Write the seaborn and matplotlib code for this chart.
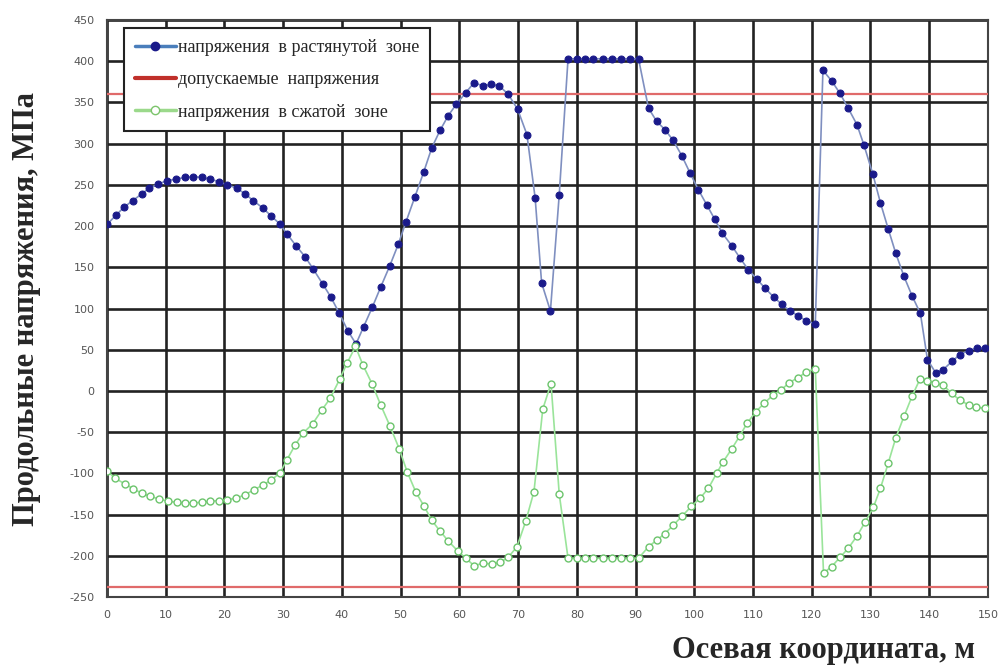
import matplotlib
matplotlib.use("Agg")
import matplotlib.pyplot as plt
import seaborn as sns
import pandas as pd
from matplotlib.lines import Line2D

# ---- data ----
blue_x = [0, 1.5, 2.9, 4.4, 5.9, 7.2, 8.7, 10.2, 11.7, 13.3, 14.7, 16.2, 17.5, 19.0, 20.5,
          22.1, 23.5, 24.9, 26.5, 28.0, 29.5, 30.7, 32.2, 33.7, 35.1, 36.7, 38.1, 39.5, 41.0,
          42.4, 43.7, 45.2, 46.6, 48.1, 49.6, 50.9, 52.4, 53.9, 55.3, 56.7, 58.1, 59.5, 61.1,
          62.5, 64.0, 65.4, 66.8, 68.3, 69.9, 71.5, 72.9, 74.0, 75.5, 77.0,
          78.5, 80.0, 81.4, 82.8, 84.4, 85.9, 87.6, 89.0, 90.5,
          92.2, 93.6, 95.0, 96.4, 97.9, 99.3, 100.7, 102.1, 103.5, 104.8, 106.4, 107.8, 109.2,
          110.6, 112.0, 113.5, 114.9, 116.3, 117.7, 119.1, 120.6,
          121.9, 123.4, 124.8, 126.2, 127.7, 128.9, 130.4, 131.7, 133.0, 134.3, 135.7, 137.1,
          138.5, 139.7, 141.1, 142.4, 143.9, 145.2, 146.7, 148.1, 149.5]
blue_y = [202, 213, 223, 231, 239, 246, 251, 255, 257, 259, 260, 259, 257, 254, 250,
          246, 239, 231, 222, 212, 202, 190, 176, 163, 148, 130, 114, 95, 73,
          57, 78, 102, 126, 151, 178, 205, 235, 265, 295, 316, 334, 348, 362,
          374, 370, 372, 370, 360, 342, 311, 234, 131, 97, 238,
          403, 403, 403, 403, 403, 403, 403, 403, 403,
          343, 327, 317, 304, 285, 264, 244, 226, 208, 191, 176, 161, 147,
          136, 125, 114, 105, 97, 91, 85, 81,
          389, 376, 361, 343, 323, 298, 263, 228, 197, 167, 139, 115,
          94, 38, 22, 26, 36, 44, 49, 52, 52]

green_x = [0, 1.4, 3.1, 4.5, 5.9, 7.3, 8.9, 10.4, 11.9, 13.3, 14.7, 16.1, 17.5, 19.0, 20.4,
           22.0, 23.5, 25.0, 26.6, 28.0, 29.5, 30.6, 32.0, 33.4, 35.0, 36.6, 38.0, 39.6, 40.9,
           42.3, 43.6, 45.1, 46.6, 48.2, 49.8, 51.1, 52.6, 54.0, 55.3, 56.7, 58.1, 59.7, 61.1,
           62.5, 64.0, 65.5, 66.9, 68.3, 69.8, 71.3, 72.7, 74.2, 75.6, 77.0,
           78.5, 80.0, 81.4, 82.8, 84.4, 85.9, 87.6, 89.0, 90.5,
           92.2, 93.6, 95.0, 96.4, 97.9, 99.5, 101.0, 102.4, 103.8, 104.9, 106.4, 107.7, 109.0,
           110.5, 111.9, 113.4, 114.7, 116.2, 117.6, 119.1, 120.6,
           122.0, 123.4, 124.8, 126.2, 127.7, 129.1, 130.5, 131.7, 133.0, 134.3, 135.7, 137.1,
           138.4, 139.7, 141.0, 142.4, 143.8, 145.2, 146.7, 148.0, 149.5]
green_y = [-97, -106, -113, -119, -124, -128, -131, -134, -135, -136, -136, -135, -134, -133, -132,
           -130, -126, -120, -114, -108, -99, -84, -66, -51, -40, -23, -9, 14, 34,
           54, 31, 9, -17, -43, -71, -98, -123, -140, -157, -170, -182, -194, -203,
           -212, -209, -210, -208, -202, -189, -158, -122, -22, 9, -125,
           -203, -203, -203, -203, -203, -203, -203, -203, -203,
           -189, -181, -173, -163, -152, -140, -130, -118, -100, -86, -70, -55, -39,
           -25, -15, -5, 1, 10, 16, 23, 27,
           -221, -213, -202, -191, -176, -159, -141, -118, -88, -57, -31, -6,
           14, 12, 10, 7, -3, -11, -17, -20, -21]

limit_x = [0, 150]
limit_upper = [360, 360]
limit_lower = [-238, -238]

x_ticks = list(range(0, 151, 10))
y_ticks = list(range(-250, 451, 50))

labels = ["напряжения  в растянутой  зоне",
          "допускаемые  напряжения",
          "напряжения  в сжатой  зоне"]
xlabel = "Осевая координата, м"
ylabel = "Продольные напряжения, МПа"

# ---- plot ----
sns.set_style("white")
plt.rcParams['font.family'] = ['DejaVu Sans']
plt.rcParams['axes.unicode_minus'] = False

fig = plt.figure(figsize=(10.03, 6.69), dpi=100)
ax = fig.add_axes([0.1067, 0.1076, 0.8783, 0.8625])

df_b = pd.DataFrame({"x": blue_x, "y": blue_y})
df_g = pd.DataFrame({"x": green_x, "y": green_y})

sns.lineplot(data=df_b, x="x", y="y", ax=ax, color="#7f8fc0", linewidth=1.2,
             marker="o", markersize=5, markerfacecolor="#1a1a8a", markeredgecolor="#1a1a8a",
             zorder=4, estimator=None, sort=False)
sns.lineplot(x=limit_x, y=limit_upper, ax=ax, color="#e06a6a", linewidth=1.6,
             zorder=3, estimator=None)
sns.lineplot(x=limit_x, y=limit_lower, ax=ax, color="#e06a6a", linewidth=1.6,
             zorder=3, estimator=None)
sns.lineplot(data=df_g, x="x", y="y", ax=ax, color="#9ae49a", linewidth=1.2,
             marker="o", markersize=5, markerfacecolor="white", markeredgecolor="#6cc46c",
             markeredgewidth=1.0, zorder=4, estimator=None, sort=False)

ax.set_xlim(0, 150)
ax.set_ylim(-250, 450)
ax.set_xticks(x_ticks)
ax.set_yticks(y_ticks)
ax.tick_params(length=0, labelsize=8, colors="#555555", pad=9)
ax.grid(True, color="#222222", linewidth=1.9)
ax.set_axisbelow(True)
for s in ax.spines.values():
    s.set_color("#444444")
    s.set_linewidth(1.5)

ax.set_xlabel("")
ax.set_ylabel("")
fig.text(0.972, 0.016, xlabel, ha="right", va="baseline", fontsize=22,
         fontweight="bold", family="Liberation Serif")
fig.text(0.026, 0.538, ylabel, ha="center", va="center", rotation=90, fontsize=22,
         fontweight="bold", family="Liberation Serif")

# legend with custom handles
h = [Line2D([], [], color="#4a7ebb", linewidth=2.5, marker="o", markersize=6,
            markerfacecolor="#1a1a8a", markeredgecolor="#1a1a8a"),
     Line2D([], [], color="#c0302a", linewidth=3),
     Line2D([], [], color="#9bd98b", linewidth=2.5, marker="o", markersize=6,
            markerfacecolor="white", markeredgecolor="#7cc46c")]
leg = ax.legend(h, labels, loc="upper left", bbox_to_anchor=(0.019, 0.986),
                borderaxespad=0, frameon=True, fancybox=False, framealpha=1,
                edgecolor="#222222", handlelength=2.3, handletextpad=0.1,
                labelspacing=0.85, borderpad=0.6,
                prop={"family": "Liberation Serif", "size": 13})
leg.get_frame().set_linewidth(1.5)

fig.savefig("out.png", dpi=100)
